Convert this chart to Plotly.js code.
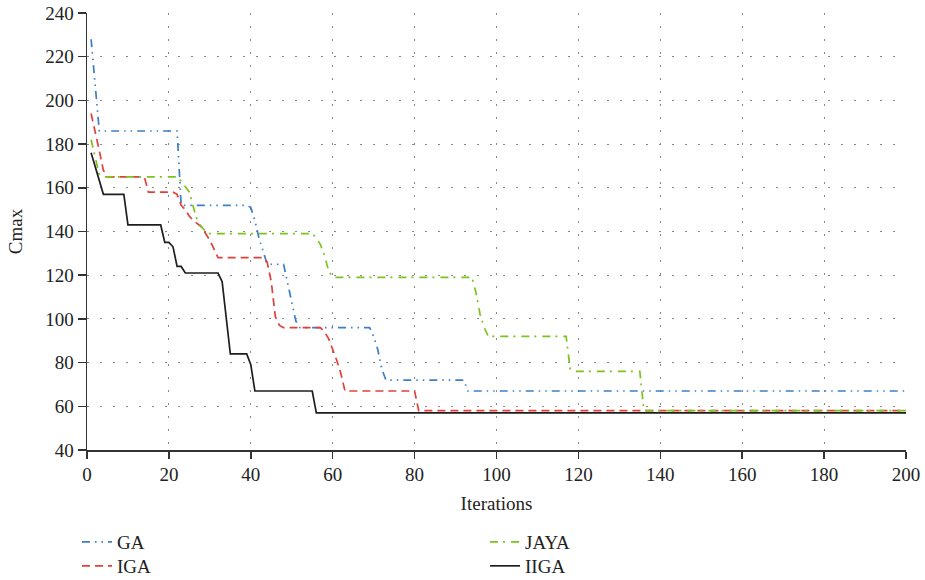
<!DOCTYPE html>
<html>
<head>
<meta charset="utf-8">
<script src="https://cdn.plot.ly/plotly-3.0.1.min.js"></script>
<style>html,body{margin:0;padding:0;background:#fff;}#chart{width:925px;height:580px;}</style>
</head>
<body>
<div id="chart"></div>
<script>
// Iteration / Cmax values
var gaX = [1,2,3,22,23,39,40,41,42,43,44,48,49,50,51,52,69,70,71,72,73,92,93,200];
var gaY = [228,206,186,186,152,152,151,145,137,131,125,125,116,107,99,96,96,92,86,77,72,72,67,67];

var igaX = [1,2,3,4,5,14,15,20,21,22,23,24,25,26,27,28,29,30,31,32,43,44,45,46,47,48,56,57,58,59,60,61,62,63,80,81,200];
var igaY = [194,186,177,168,165,165,158,158,158,157,152,150,147,145,143.5,142,139,136,132,128,128,126,117,101,97,96,96,96,94,91,86,81,75,67,67,58,58];

var jayaX = [1,2,3,4,22,23,24,25,26,27,28,29,30,55,56,57,58,59,60,94,95,96,97,98,117,118,119,135,136,200];
var jayaY = [182,174,166,165,165,163,160.5,158,151,144.5,142,140,139,139,137,134,129,122,119,119,112,102,96,92,92,77,76,76,58,58];

var iigaX = [1,2,3,4,9,10,18,19,20,21,22,23,24,32,33,34,35,39,40,41,55,56,200];
var iigaY = [176,170,164,157,157,143,143,135,135,133,124,124,121,121,117,100,84,84,79,67,67,57,57];

var xTicks = [0,20,40,60,80,100,120,140,160,180,200];
var yTicks = [40,60,80,100,120,140,160,180,200,220,240];

var FONT = 'Liberation Serif, Times New Roman, serif';
var FS = 19;

var traces = [
  {x: gaX, y: gaY, name: 'GA', mode: 'lines', legend: 'legend',
   line: {color: '#3c7fc6', width: 1.7, dash: '8px,5px,1.5px,5px,1.5px,5px'}},
  {x: igaX, y: igaY, name: 'IGA', mode: 'lines', legend: 'legend2',
   line: {color: '#e2403a', width: 1.7, dash: '8px,5px'}},
  {x: jayaX, y: jayaY, name: 'JAYA', mode: 'lines', legend: 'legend3',
   line: {color: '#7cc31c', width: 1.7, dash: '8px,5px,2px,6px'}},
  {x: iigaX, y: iigaY, name: 'IIGA', mode: 'lines', legend: 'legend4',
   line: {color: '#1e1e1e', width: 1.7}}
];

function leg(x, y) {
  return {
    orientation: 'v', xref: 'paper', yref: 'paper',
    x: x, y: y, xanchor: 'left', yanchor: 'middle',
    font: {family: FONT, size: FS, color: '#222'},
    bgcolor: 'rgba(0,0,0,0)', borderwidth: 0
  };
}

var layout = {
  width: 925, height: 580,
  margin: {l: 87, r: 19, t: 13, b: 130, autoexpand: false},
  paper_bgcolor: '#fff', plot_bgcolor: '#fff',
  font: {family: FONT, size: FS, color: '#222'},
  showlegend: true,
  legend: leg(-0.0122, -0.2105),
  legend2: leg(-0.0122, -0.2654),
  legend3: leg(0.486, -0.2105),
  legend4: leg(0.486, -0.2654),
  xaxis: {
    range: [0, 200], tickvals: xTicks, ticktext: xTicks.map(String),
    showline: true, linecolor: '#333', linewidth: 1.5,
    ticks: 'outside', ticklen: 7, tickcolor: '#333', tickwidth: 1.5,
    showgrid: true, gridcolor: '#888', gridwidth: 1, griddash: '2px,11px',
    zeroline: false, tickfont: {family: FONT, size: FS, color: '#222'},
    title: {text: 'Iterations', font: {family: FONT, size: FS, color: '#222'}, standoff: 12}
  },
  yaxis: {
    range: [40, 240], tickvals: yTicks, ticktext: yTicks.map(String),
    showline: true, linecolor: '#333', linewidth: 1.5,
    ticks: 'outside', ticklen: 8, tickcolor: '#333', tickwidth: 1.5,
    showgrid: true, gridcolor: '#888', gridwidth: 1, griddash: '2px,11px',
    zeroline: false, tickfont: {family: FONT, size: FS, color: '#222'},
    title: {text: 'Cmax', font: {family: FONT, size: FS, color: '#222'}, standoff: 17}
  }
};

Plotly.newPlot('chart', traces, layout, {displayModeBar: false, staticPlot: true});
</script>
</body>
</html>
